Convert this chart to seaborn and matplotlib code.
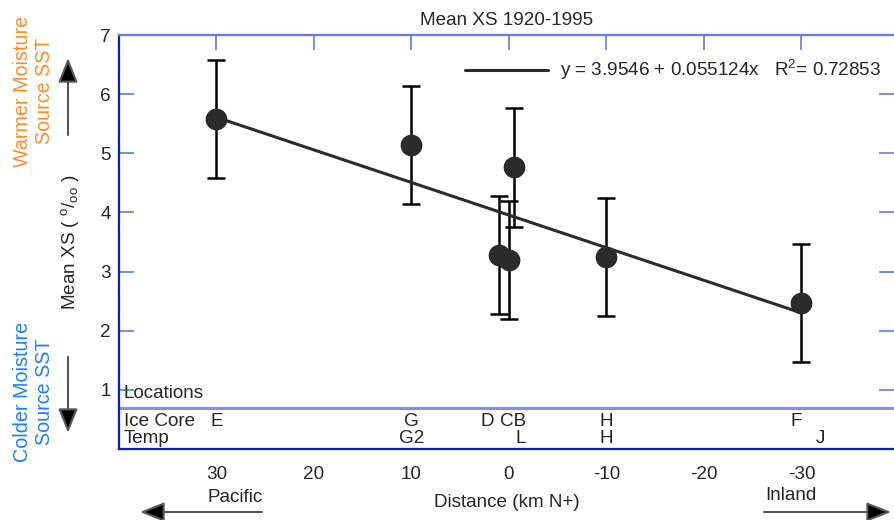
import matplotlib
matplotlib.use('Agg')
import matplotlib.pyplot as plt
from matplotlib.lines import Line2D
import numpy as np
import pandas as pd
import seaborn as sns

# Data
distance = [30, 10, 1, 0, -0.5, -10, -30]
mean_xs = [5.58, 5.14, 3.28, 3.19, 4.76, 3.25, 2.47]
xs_error = [1.0, 1.0, 1.0, 1.0, 1.0, 1.0, 1.0]

# Fit reported on the chart
intercept, slope, r2 = 3.9546, 0.055124, 0.72853

# Location labels along the bottom strip
ice_core_labels = ['E', 'G', 'D', 'CB', 'H', 'F']
ice_core_pos = [30, 10, 2.2, -0.4, -10, -29.5]
temp_labels = ['G2', 'L', 'H', 'J']
temp_pos = [10, -1.2, -10, -32]

x_ticks = [30, 20, 10, 0, -10, -20, -30]
y_ticks = [1, 2, 3, 4, 5, 6, 7]

df = pd.DataFrame({'distance': distance, 'mean_xs': mean_xs, 'err': xs_error})

sns.set_style('white')
plt.rcParams['font.family'] = ['Liberation Sans', 'DejaVu Sans']
plt.rcParams['mathtext.fontset'] = 'custom'
plt.rcParams['mathtext.rm'] = 'Liberation Sans'
plt.rcParams['mathtext.it'] = 'Liberation Sans'
plt.rcParams['axes.unicode_minus'] = False

fs = 13.6
fig = plt.figure(figsize=(8.94, 5.2), dpi=100)
ax = fig.add_axes([119 / 894, 1 - 449 / 520, 775 / 894, 414 / 520])

dark = '#2b2b2b'
ax.errorbar(df['distance'], df['mean_xs'], yerr=df['err'], fmt='none',
            ecolor='black', elinewidth=1.8, capsize=6.5, capthick=1.8, zorder=2)
sns.scatterplot(data=df, x='distance', y='mean_xs', s=210, color=dark,
                edgecolor=dark, zorder=3, ax=ax)

# Regression line over the data range
line_x = np.array([max(distance), min(distance)])
ax.plot(line_x, intercept + slope * line_x, color=dark, lw=2.2, zorder=2)

ax.set_xlim(40, -39.5)
ax.set_ylim(0, 7)
ax.set_xticks(x_ticks)
ax.set_yticks(y_ticks)

ax.tick_params(axis='y', direction='in', length=11, width=1.2, color='#5d7be0',
               left=True, right=True, pad=6, labelsize=fs)
ax.tick_params(axis='x', direction='in', length=11, width=1.2, color='#5d7be0',
               top=True, bottom=False, pad=12, labelsize=fs)

for side in ['left', 'bottom']:
    ax.spines[side].set_color('#0a1ec8')
    ax.spines[side].set_linewidth(1.6)
ax.spines['top'].set_color('#5d7be0')
ax.spines['top'].set_linewidth(1.6)
ax.spines['right'].set_visible(False)

ax.axhline(0.69, color='#8090e6', lw=2.2)

ax.set_title('Mean XS 1920-1995', fontsize=fs, pad=7)
ax.set_xlabel('Distance (km N+)', fontsize=fs, labelpad=8)
ax.set_ylabel(r'Mean XS ( $^{o}/_{oo}$ )', fontsize=fs, labelpad=14)

# Legend for the fit
handle = Line2D([], [], color=dark, lw=2.2)
ax.legend([handle], [f'y = {intercept} + {slope}x   R$^2$= {r2}'], loc='upper right',
          bbox_to_anchor=(1.005, 0.985), frameon=False, handlelength=4.4,
          handletextpad=0.6, fontsize=fs)

# Bottom location strip
trans = ax.get_xaxis_transform()
ax.text(0.006, 0.93 / 7, 'Locations', transform=ax.transAxes, fontsize=fs, va='center')
ax.text(0.006, 0.46 / 7, 'Ice Core', transform=ax.transAxes, fontsize=fs, va='center')
ax.text(0.006, 0.18 / 7, 'Temp', transform=ax.transAxes, fontsize=fs, va='center')
for lab, pos in zip(ice_core_labels, ice_core_pos):
    ax.text(pos, 0.46 / 7, lab, transform=trans, ha='center', va='center', fontsize=fs)
for lab, pos in zip(temp_labels, temp_pos):
    ax.text(pos, 0.18 / 7, lab, transform=trans, ha='center', va='center', fontsize=fs)

# Side annotations
fig.text(34 / 894, 1 - 91 / 520, 'Warmer Moisture\nSource SST', rotation=90,
         ha='center', va='center', color='#ff8c28', fontsize=14.2, linespacing=1.2)
fig.text(34 / 894, 1 - 392 / 520, 'Colder Moisture\nSource SST', rotation=90,
         ha='center', va='center', color='#1e7fff', fontsize=14.2, linespacing=1.2)

arrow = dict(arrowstyle='-|>,head_width=0.6,head_length=1.5', fc='black',
             ec='#555555', lw=1.5, shrinkA=0, shrinkB=0)
ax.annotate('', xy=(68 / 894, 1 - 58 / 520), xytext=(68 / 894, 1 - 135 / 520),
            xycoords='figure fraction', textcoords='figure fraction', arrowprops=arrow)
ax.annotate('', xy=(68 / 894, 1 - 433 / 520), xytext=(68 / 894, 1 - 357 / 520),
            xycoords='figure fraction', textcoords='figure fraction', arrowprops=arrow)
ax.annotate('', xy=(140 / 894, 1 - 512 / 520), xytext=(262 / 894, 1 - 512 / 520),
            xycoords='figure fraction', textcoords='figure fraction', arrowprops=arrow)
ax.annotate('', xy=(891 / 894, 1 - 512 / 520), xytext=(764 / 894, 1 - 512 / 520),
            xycoords='figure fraction', textcoords='figure fraction', arrowprops=arrow)

fig.text(235 / 894, 1 - 497 / 520, 'Pacific', ha='center', va='center', fontsize=fs)
fig.text(791 / 894, 1 - 496 / 520, 'Inland', ha='center', va='center', fontsize=fs)

fig.savefig('out.png', dpi=100)
